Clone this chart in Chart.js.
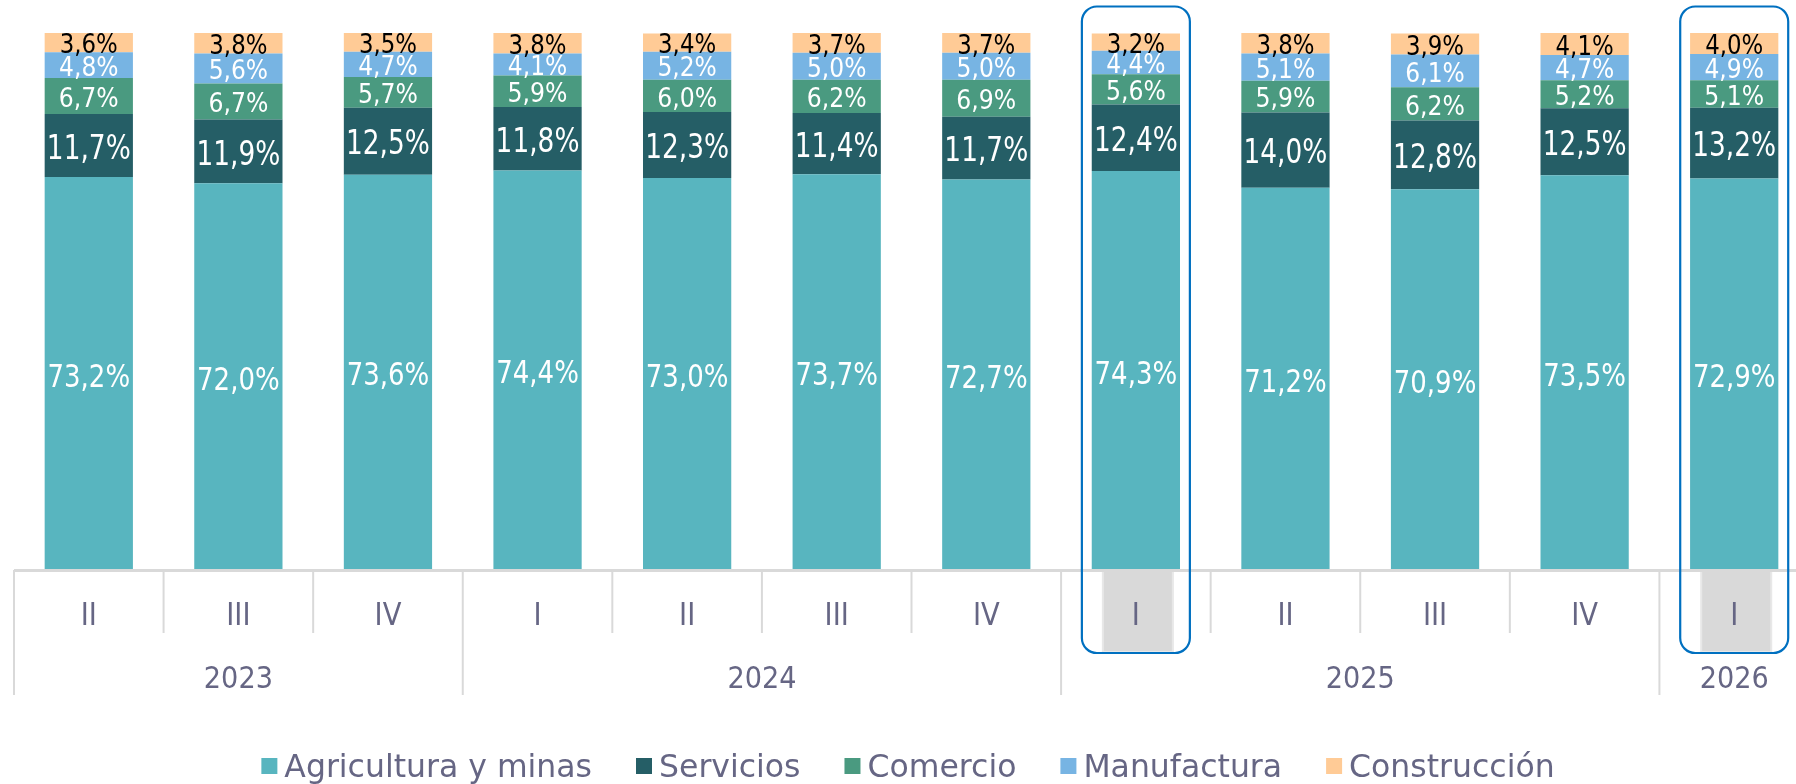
<!DOCTYPE html>
<html><head><meta charset="utf-8">
<script src="https://cdn.jsdelivr.net/npm/chart.js@4.4.0/dist/chart.umd.min.js"></script>
<style>
html,body{margin:0;padding:0;overflow:hidden;background:#fff;width:1796px;height:784px}
#wrap{position:absolute;left:0;top:0;width:1816px;height:784px}
</style></head><body><div id="wrap"><canvas id="c"></canvas></div>
<script>
const quarters = ['II','III','IV','I','II','III','IV','I','II','III','IV','I'];
const years = ['2023','2024','2025','2026'];
const yearSpans = [3, 4, 4, 1];
const seriesNames = ['Agricultura y minas','Servicios','Comercio','Manufactura','Construcción'];
const agricultura = [73.2,72.0,73.6,74.4,73.0,73.7,72.7,74.3,71.2,70.9,73.5,72.9];
const servicios   = [11.7,11.9,12.5,11.8,12.3,11.4,11.7,12.4,14.0,12.8,12.5,13.2];
const comercio    = [6.7,6.7,5.7,5.9,6.0,6.2,6.9,5.6,5.9,6.2,5.2,5.1];
const manufactura = [4.8,5.6,4.7,4.1,5.2,5.0,5.0,4.4,5.1,6.1,4.7,4.9];
const construccion= [3.6,3.8,3.5,3.8,3.4,3.7,3.7,3.2,3.8,3.9,4.1,4.0];
const highlighted = [7, 11];

const FONT = '"DejaVu Sans",sans-serif';
const CAP = 0.729;
const colors = ['#58B5BF','#255E66','#4A9A80','#77B4E3','#FFCB96'];
const labelColors = ['#FFFFFF','#FFFFFF','#FFFFFF','#FFFFFF','#000000'];
const labelSizes = [32.5, 33, 26.5, 26, 26];
const labelScaleX = [0.8, 0.8, 0.89, 0.9, 0.88];
const textColor = '#666684';

function drawText(ctx, txt, x, cy, size, sx, color, align) {
  ctx.save();
  ctx.font = size + 'px ' + FONT;
  ctx.fillStyle = color;
  ctx.textAlign = align || 'center';
  ctx.textBaseline = 'alphabetic';
  ctx.translate(x, cy + CAP * size / 2);
  ctx.scale(sx, 1);
  ctx.fillText(txt, 0, 0);
  ctx.restore();
}

const labelPlugin = {
  id: 'segLabels',
  afterDatasetsDraw(chart) {
    const ctx = chart.ctx;
    chart.data.datasets.forEach((ds, i) => {
      const meta = chart.getDatasetMeta(i);
      meta.data.forEach((el, j) => {
        const txt = ds.data[j].toFixed(1).replace('.', ',') + '%';
        drawText(ctx, txt, el.x, (el.y + el.base) / 2 + 1.2, labelSizes[i], labelScaleX[i], labelColors[i]);
      });
    });
  }
};

function roundRect(ctx, x, y, w, h, r) {
  ctx.beginPath();
  ctx.moveTo(x + r, y);
  ctx.lineTo(x + w - r, y);
  ctx.arcTo(x + w, y, x + w, y + r, r);
  ctx.lineTo(x + w, y + h - r);
  ctx.arcTo(x + w, y + h, x + w - r, y + h, r);
  ctx.lineTo(x + r, y + h);
  ctx.arcTo(x, y + h, x, y + h - r, r);
  ctx.lineTo(x, y + r);
  ctx.arcTo(x, y, x + r, y, r);
  ctx.closePath();
}

const axisPlugin = {
  id: 'groupAxis',
  afterDraw(chart) {
    const ctx = chart.ctx;
    const xs = chart.scales.x;
    const area = chart.chartArea;
    const n = quarters.length;
    const step = xs.getPixelForValue(1) - xs.getPixelForValue(0);
    const bound = i => xs.getPixelForValue(i) - step / 2;
    const y0 = area.bottom;
    ctx.save();
    // gray highlight cells
    highlighted.forEach(i => {
      const cx = xs.getPixelForValue(i);
      ctx.fillStyle = '#E8E8E8';
      ctx.fillRect(cx - 34, y0 + 2, 72, 81);
      ctx.fillStyle = '#D9D9D9';
      ctx.fillRect(cx - 32, y0 + 2, 68, 79);
    });
    // axis line
    ctx.strokeStyle = '#D9D9D9';
    ctx.lineWidth = 3;
    ctx.beginPath();
    ctx.moveTo(bound(0), y0 + 0.5);
    ctx.lineTo(bound(n), y0 + 0.5);
    ctx.stroke();
    // separators
    const yearStarts = [];
    let acc = 0;
    yearSpans.forEach(s => { yearStarts.push(acc); acc += s; });
    ctx.lineWidth = 2;
    for (let i = 0; i <= n; i++) {
      const isYear = yearStarts.includes(i) || i === n;
      ctx.beginPath();
      ctx.moveTo(bound(i), y0);
      ctx.lineTo(bound(i), y0 + (isYear ? 125 : 63));
      ctx.stroke();
    }
    ctx.restore();
    // quarter labels
    quarters.forEach((q, i) => {
      drawText(ctx, q, xs.getPixelForValue(i), y0 + 43.5, 31.5, 0.87, textColor);
    });
    // year labels
    years.forEach((yr, k) => {
      const a = bound(yearStarts[k]);
      const b = bound(yearStarts[k] + yearSpans[k]);
      drawText(ctx, yr, (a + b) / 2, y0 + 106.5, 31, 0.875, textColor);
    });
    // blue rounded highlight boxes
    ctx.save();
    ctx.strokeStyle = '#0070C0';
    ctx.lineWidth = 2.2;
    highlighted.forEach(i => {
      const cx = xs.getPixelForValue(i);
      roundRect(ctx, cx - 54, 6.5, 108, y0 + 83 - 6.5, 15);
      ctx.stroke();
    });
    ctx.restore();

    // legend
    const lsize = 31.5, lsx = 1.0, box = 16, gapBox = 7, gapItem = 44;
    ctx.save();
    ctx.font = lsize + 'px ' + FONT;
    const items = chart.data.datasets.map(ds => ({
      label: ds.label, color: ds.backgroundColor,
      w: ctx.measureText(ds.label).width * lsx
    }));
    ctx.restore();
    const total = items.reduce((s, it) => s + box + gapBox + it.w, 0) + gapItem * (items.length - 1);
    let x = chart.width / 2 - total / 2;
    const cy = 766;
    items.forEach(it => {
      ctx.fillStyle = it.color;
      ctx.fillRect(x, cy - box / 2, box, box);
      drawText(ctx, it.label, x + box + gapBox, cy, lsize, lsx, textColor, 'left');
      x += box + gapBox + it.w + gapItem;
    });
  }
};

new Chart(document.getElementById('c'), {
  type: 'bar',
  data: {
    labels: quarters,
    datasets: [agricultura, servicios, comercio, manufactura, construccion].map((d, i) => ({
      label: seriesNames[i],
      data: d,
      backgroundColor: colors[i],
      borderWidth: 0,
      barPercentage: 0.59,
      categoryPercentage: 1.0
    }))
  },
  options: {
    responsive: true,
    maintainAspectRatio: false,
    animation: false,
    events: [],
    layout: { padding: { left: 14, right: 7, top: 33, bottom: 74 } },
    scales: {
      x: {
        stacked: true,
        display: true,
        grid: { display: false },
        border: { display: false },
        ticks: { display: false },
        afterFit(s) { s.height = 140; }
      },
      y: { stacked: true, display: false, min: 0, max: 100 }
    },
    plugins: {
      legend: { display: false },
      tooltip: { enabled: false }
    }
  },
  plugins: [labelPlugin, axisPlugin]
});
</script></body></html>
